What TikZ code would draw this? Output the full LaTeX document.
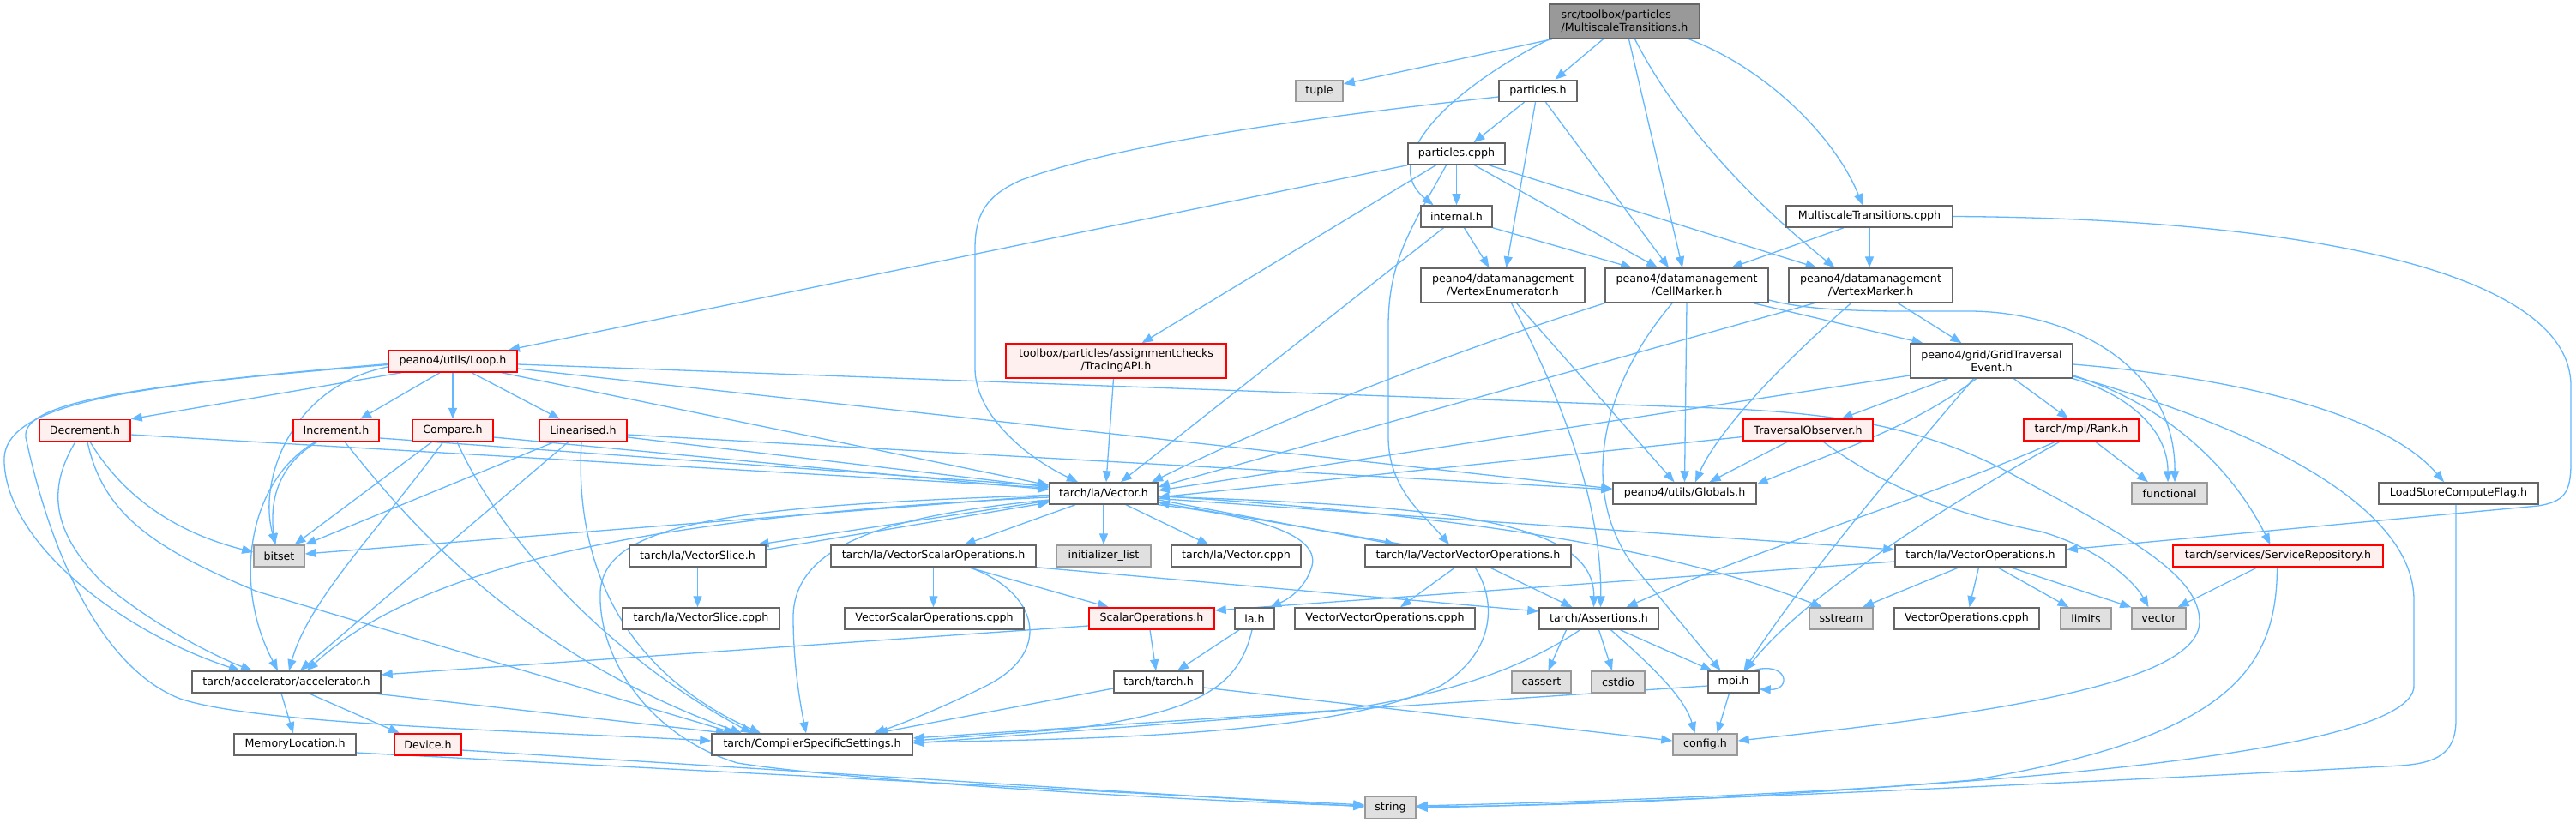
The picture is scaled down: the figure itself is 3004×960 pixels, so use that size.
\documentclass[tikz,border=0pt]{standalone}
\usepackage{fontspec}
\setmainfont{DejaVu Sans}
\usetikzlibrary{arrows.meta}
\pgfdeclarelayer{back}
\pgfdeclarelayer{edges}
\pgfsetlayers{back,edges,main}
\definecolor{edgec}{HTML}{63B8FF}
\definecolor{nodeborder}{HTML}{666666}
\definecolor{grayfill}{HTML}{E0E0E0}
\definecolor{grayborder}{HTML}{999999}
\definecolor{redfill}{HTML}{FFF0F0}
\definecolor{topfill}{HTML}{999999}
\tikzset{
 nb/.style={draw=nodeborder, fill=white, line width=1.5pt, inner sep=0pt, minimum height=25pt, font=\fontsize{12.65pt}{15pt}\selectfont, align=center},
 gb/.style={nb, draw=grayborder, fill=grayfill},
 rb/.style={nb, draw=red, fill=redfill},
 tb/.style={nb, draw=nodeborder, fill=topfill},
 twol/.style={minimum height=40pt},
 dep/.style={draw=edgec, line width=1.3pt, -{Triangle[length=13pt,width=10pt]}},
}
\begin{document}
\begin{tikzpicture}[x=1pt,y=-1pt]
\useasboundingbox (0,0) rectangle (3004,960);
\begin{pgfonlayer}{back}
\fill[white] (0,0) rectangle (3004,960);
\end{pgfonlayer}
\node[tb, align=left, twol, minimum width=175pt] (mt) at (1894.5,25) {src/toolbox/particles\\/MultiscaleTransitions.h};
\node[gb, minimum width=55pt] (tuple) at (1538.5,106) {tuple};
\node[nb, minimum width=91pt] (ph) at (1793.5,106) {particles.h};
\node[nb, minimum width=113pt] (pcpph) at (1698.5,179.5) {particles.cpph};
\node[nb, minimum width=83pt] (internal) at (1698.5,252.5) {internal.h};
\node[nb, minimum width=194pt] (mtcpph) at (2180,252.5) {MultiscaleTransitions.cpph};
\node[nb, twol, minimum width=191pt] (venum) at (1752.5,333) {peano4/datamanagement\\/VertexEnumerator.h};
\node[nb, twol, minimum width=190pt] (cellm) at (1967,333) {peano4/datamanagement\\/CellMarker.h};
\node[nb, twol, minimum width=191pt] (vertm) at (2181.5,333) {peano4/datamanagement\\/VertexMarker.h};
\node[rb, minimum width=150pt] (loop) at (528,421.5) {peano4/utils/Loop.h};
\node[rb, twol, minimum width=257pt] (tracing) at (1301.5,421) {toolbox/particles/assignmentchecks\\/TracingAPI.h};
\node[nb, twol, minimum width=189pt] (gte) at (2322.5,421) {peano4/grid/GridTraversal\\Event.h};
\node[rb, minimum width=106pt] (dec) at (99,502) {Decrement.h};
\node[rb, minimum width=100pt] (inc) at (392,502) {Increment.h};
\node[rb, minimum width=94pt] (cmp) at (528,502) {Compare.h};
\node[rb, minimum width=102pt] (lin) at (680,502) {Linearised.h};
\node[rb, minimum width=151pt] (tobs) at (2108.5,501.5) {TraversalObserver.h};
\node[rb, minimum width=134pt] (rank) at (2427,501.5) {tarch/mpi/Rank.h};
\node[nb, minimum width=126pt] (vec) at (1287,575.5) {tarch/la/Vector.h};
\node[nb, minimum width=167pt] (glob) at (1964.5,575.5) {peano4/utils/Globals.h};
\node[gb, minimum width=88pt] (func) at (2530,575.5) {functional};
\node[nb, minimum width=186pt] (lscf) at (2867,575.5) {LoadStoreComputeFlag.h};
\node[gb, minimum width=59pt] (bitset) at (325.5,648.5) {bitset};
\node[nb, minimum width=159pt] (vslice) at (813.5,648.5) {tarch/la/VectorSlice.h};
\node[nb, minimum width=239pt] (vso) at (1088.5,648.5) {tarch/la/VectorScalarOperations.h};
\node[gb, minimum width=110pt] (initl) at (1287,648.5) {initializer\_list};
\node[nb, minimum width=151pt] (vcpph) at (1441.5,648.5) {tarch/la/Vector.cpph};
\node[nb, minimum width=240pt] (vvo) at (1712,648.5) {tarch/la/VectorVectorOperations.h};
\node[nb, minimum width=199pt] (vops) at (2309.5,648.5) {tarch/la/VectorOperations.h};
\node[rb, minimum width=245pt] (srep) at (2656.5,648.5) {tarch/services/ServiceRepository.h};
\node[nb, minimum width=183pt] (vslicecpph) at (817.5,721.5) {tarch/la/VectorSlice.cpph};
\node[nb, minimum width=209pt] (vsocpph) at (1089.5,721.5) {VectorScalarOperations.cpph};
\node[rb, minimum width=146pt] (scalar) at (1343,721.5) {ScalarOperations.h};
\node[nb, minimum width=46pt] (la) at (1463,721.5) {la.h};
\node[nb, minimum width=210pt] (vvocpph) at (1615,721.5) {VectorVectorOperations.cpph};
\node[nb, minimum width=139pt] (assert) at (1864.5,721.5) {tarch/Assertions.h};
\node[gb, minimum width=74pt] (sstream) at (2147,721.5) {sstream};
\node[nb, minimum width=169pt] (vocpph) at (2293.5,721.5) {VectorOperations.cpph};
\node[gb, minimum width=59pt] (limits) at (2432.5,721.5) {limits};
\node[gb, minimum width=63pt] (vector) at (2517.5,721.5) {vector};
\node[nb, minimum width=220pt] (accel) at (334,795.5) {tarch/accelerator/accelerator.h};
\node[nb, minimum width=104pt] (tarch) at (1351,795.5) {tarch/tarch.h};
\node[gb, minimum width=69pt] (cassert) at (1797.5,795.5) {cassert};
\node[gb, minimum width=62pt] (cstdio) at (1887,795.5) {cstdio};
\node[nb, minimum width=59pt] (mpi) at (2021.5,795.5) {mpi.h};
\node[nb, minimum width=142pt] (memloc) at (344,868.5) {MemoryLocation.h};
\node[rb, minimum width=78pt] (device) at (499,868.5) {Device.h};
\node[nb, minimum width=234pt] (css) at (947,868.5) {tarch/CompilerSpecificSettings.h};
\node[gb, minimum width=75pt] (config) at (1988.5,868.5) {config.h};
\node[gb, minimum width=59pt] (string) at (1621.5,942) {string};

\begin{pgfonlayer}{edges}
% MultiscaleTransitions.h
\draw[dep] ([xshift=-84.5pt]mt.south) -- ([yshift=8pt]tuple.east);
\draw[dep] ([xshift=-25pt]mt.south) -- ([xshift=20pt]ph.north);
\draw[dep] ([xshift=-88pt]mt.south) .. controls (1680,110) and (1610,190) .. ([xshift=-27pt]internal.north);
\draw[dep] ([xshift=5pt]mt.south) -- ([xshift=-5pt]cellm.north);
\draw[dep] ([xshift=12pt]mt.south) .. controls (1960,150) and (2050,240) .. ([xshift=-42pt]vertm.north);
\draw[dep] ([xshift=75pt]mt.south) .. controls (2060,80) and (2140,160) .. ([xshift=-8pt]mtcpph.north);
% particles.h
\draw[dep] ([xshift=-16pt]ph.south) -- ([xshift=20pt]pcpph.north);
\draw[dep] ([xshift=-3pt]ph.south) -- ([xshift=4pt]venum.north);
\draw[dep] ([xshift=9pt]ph.south) -- ([xshift=-21pt]cellm.north);
\draw[dep] ([yshift=-7pt]ph.west) .. controls (1500,140) and (1300,170) .. (1191,210) .. controls (1150,228) and (1137,250) .. (1137,290) -- (1137,430) .. controls (1137,480) and (1190,530) .. ([xshift=-30pt]vec.north);
% particles.cpph
\draw[dep] (pcpph.south west) -- ([xshift=65pt]loop.north);
\draw[dep] ([xshift=-24pt]pcpph.south) -- ([xshift=30pt]tracing.north);
\draw[dep] (pcpph.south) -- (internal.north);
\draw[dep] ([xshift=-12pt]pcpph.south) .. controls (1650,260) and (1619,300) .. (1619,380) -- (1619,510) .. controls (1619,570) and (1660,600) .. ([xshift=-22pt]vvo.north);
\draw[dep] ([xshift=21pt]pcpph.south) -- ([xshift=-34pt]cellm.north);
\draw[dep] ([xshift=38pt]pcpph.south) -- ([xshift=-63pt]vertm.north);
% internal.h
\draw[dep] ([xshift=9pt]internal.south) -- ([xshift=-16pt]venum.north);
\draw[dep] (internal.south east) -- ([xshift=-64pt]cellm.north);
\draw[dep] ([xshift=-15pt]internal.south) -- ([xshift=20pt]vec.north);
% MultiscaleTransitions.cpph
\draw[dep] ([xshift=-30pt]mtcpph.south) -- ([xshift=52pt]cellm.north);
\draw[dep] (mtcpph.south) -- ([xshift=-1.5pt]vertm.north);
\draw[dep] (mtcpph.east) .. controls (2700,255) and (2998,320) .. (2998,450) -- (2998,540) .. controls (2998,575) and (2990,585) .. (2960,590) -- ([yshift=7.5pt]vops.east);
% VertexEnumerator
\draw[dep] ([xshift=10pt]venum.south) .. controls (1830,480) and (1868,600) .. ([xshift=2pt]assert.north);
\draw[dep] ([xshift=16pt]venum.south) -- ([xshift=-12pt]glob.north);
% CellMarker
\draw[dep] (cellm.south west) .. controls (1740,395) and (1520,475) .. ([xshift=56pt]vec.north);
\draw[dep] (cellm.south) -- (glob.north);
\draw[dep] ([xshift=-17pt]cellm.south) .. controls (1860,460) and (1845,580) .. (1905,660) -- ([xshift=-15pt]mpi.north);
\draw[dep] ([xshift=78pt]cellm.south) -- ([xshift=-80pt]gte.north);
\draw[dep] ([yshift=-17pt]cellm.east) .. controls (2120,365) and (2200,363) .. (2300,363) .. controls (2420,365) and (2537,430) .. ([xshift=6pt]func.north);
% VertexMarker
\draw[dep] ([xshift=-66pt]vertm.south) -- ([yshift=7.5pt]vec.east);
\draw[dep] ([xshift=-23pt]vertm.south) .. controls (2060,440) and (2000,510) .. ([xshift=12.5pt]glob.north);
\draw[dep] ([xshift=32pt]vertm.south) -- ([xshift=-35pt]gte.north);
% Loop.h
\draw[dep] ([xshift=-60pt]loop.south) -- (dec.north east);
\draw[dep] ([xshift=-15pt]loop.south) -- ([xshift=28pt]inc.north);
\draw[dep] (loop.south) -- (cmp.north);
\draw[dep] ([xshift=22pt]loop.south) -- ([xshift=-27pt]lin.north);
\draw[dep] ([yshift=-6.5pt]loop.west) .. controls (340,450) and (300,560) .. ([xshift=-4pt]bitset.north);
\draw[dep] ([yshift=-4pt]loop.west) .. controls (150,450) and (0,470) .. (5,540) .. controls (10,640) and (150,740) .. ([xshift=-54pt]accel.north);
\draw[dep] ([yshift=-3pt]loop.west) .. controls (150,450) and (25,470) .. (30,510) .. controls (60,650) and (120,780) .. (210,815) .. controls (300,845) and (600,852) .. ([yshift=4.5pt]css.west);
\draw[dep] ([xshift=57pt]loop.south) -- ([yshift=9.5pt]vec.west);
\draw[dep] ([yshift=-8.5pt]loop.east) -- ([yshift=5.5pt]glob.west);
\draw[dep] ([yshift=-3.5pt]loop.east) -- (2000,476) .. controls (2150,482) and (2250,500) .. (2350,555) .. controls (2480,625) and (2565,670) .. (2565,725) .. controls (2565,800) and (2300,835) .. ([yshift=4.5pt]config.east);
% Decrement.h
\draw[dep] ([yshift=-5pt]dec.east) -- ([yshift=6.5pt]vec.west);
\draw[dep] ([xshift=6pt]dec.south) .. controls (150,590) and (220,625) .. ([yshift=4.5pt]bitset.west);
\draw[dep] ([xshift=-11pt]dec.south) .. controls (55,570) and (60,620) .. (120,680) .. controls (180,730) and (250,765) .. ([xshift=-40pt]accel.north);
\draw[dep] ([xshift=3pt]dec.south) .. controls (120,600) and (180,640) .. (300,690) -- ([xshift=-90pt]css.north);
% Increment.h
\draw[dep] ([xshift=-22pt]inc.south) .. controls (320,545) and (315,590) .. ([xshift=-5pt]bitset.north);
\draw[dep] ([xshift=-24pt]inc.south) .. controls (290,560) and (270,680) .. ([xshift=-10pt]accel.north);
\draw[dep] ([xshift=10pt]inc.south) .. controls (470,600) and (600,760) .. ([xshift=-82pt]css.north);
\draw[dep] ([yshift=-9pt]inc.east) -- ([yshift=8.5pt]vec.west);
% Compare.h
\draw[dep] ([xshift=-24pt]cmp.south) -- ([xshift=18pt]bitset.north);
\draw[dep] ([xshift=-11pt]cmp.south) .. controls (440,620) and (360,700) .. ([xshift=3pt]accel.north);
\draw[dep] ([xshift=5pt]cmp.south) .. controls (580,620) and (700,760) .. ([xshift=-70pt]css.north);
\draw[dep] ([yshift=-8pt]cmp.east) -- ([yshift=4.5pt]vec.west);
% Linearised.h
\draw[dep] ([xshift=-33pt]lin.south) -- (bitset.north east);
\draw[dep] ([xshift=-17pt]lin.south) -- ([xshift=16pt]accel.north);
\draw[dep] ([yshift=-8pt]lin.east) -- ([yshift=7.5pt]vec.west);
\draw[dep] ([yshift=-5pt]lin.east) -- ([yshift=4.5pt]glob.west);
\draw[dep] ([xshift=-2pt]lin.south) .. controls (670,650) and (720,780) .. ([xshift=-60pt]css.north);
% TracingAPI
\draw[dep] ([xshift=-3pt]tracing.south) -- ([xshift=3pt]vec.north);
% GridTraversalEvent
\draw[dep] ([yshift=-17pt]gte.west) -- ([yshift=3.5pt]vec.east);
\draw[dep] ([xshift=-51pt]gte.south) -- ([xshift=39pt]tobs.north);
\draw[dep] ([xshift=-18pt]gte.south) .. controls (2230,500) and (2130,530) .. ([yshift=10.5pt]glob.east);
\draw[dep] ([xshift=-21pt]gte.south) .. controls (2200,560) and (2100,680) .. ([xshift=12pt]mpi.north);
\draw[dep] ([xshift=26pt]gte.south) -- ([xshift=-15pt]rank.north);
\draw[dep] (gte.south east) .. controls (2480,460) and (2528,500) .. ([xshift=-2pt]func.north);
\draw[dep] ([yshift=-17pt]gte.east) .. controls (2520,470) and (2600,540) .. ([xshift=-9pt]srep.north);
\draw[dep] ([yshift=-4pt]gte.east) .. controls (2600,440) and (2780,480) .. ([xshift=-17pt]lscf.north);
\draw[dep] ([yshift=-18pt]gte.east) .. controls (2600,490) and (2815,580) .. (2815,700) -- (2815,800) .. controls (2815,880) and (2300,925) .. ([yshift=2pt]string.east);
% TraversalObserver
\draw[dep] ([yshift=-8pt]tobs.west) -- ([yshift=-4.5pt]vec.east);
\draw[dep] ([xshift=-23pt]tobs.south) -- ([xshift=29pt]glob.north);
\draw[dep] ([xshift=17pt]tobs.south) .. controls (2200,570) and (2280,600) .. (2380,620) .. controls (2450,640) and (2490,680) .. ([xshift=-12pt]vector.north);
% Rank.h
\draw[dep] ([xshift=16pt]rank.south) -- ([xshift=-25pt]func.north);
\draw[dep] ([xshift=-24pt]rank.south) .. controls (2250,600) and (2100,700) .. ([xshift=14pt]mpi.north);
\draw[dep] ([xshift=-29pt]rank.south) .. controls (2250,580) and (2050,640) .. ([xshift=32pt]assert.north);
% Vector.h
\draw[dep] ([yshift=-2.5pt]vec.west) -- ([yshift=2.5pt]bitset.east);
\draw[dep] ([yshift=-8.5pt]vec.west) -- ([xshift=70pt]vslice.north);
\draw[dep] ([yshift=7.5pt]vslice.east) -- ([yshift=-10.5pt]vec.west);
\draw[dep] ([xshift=-33pt]vec.south) -- ([xshift=36pt]vso.north);
\draw[dep] (vec.south) -- (initl.north);
\draw[dep] ([xshift=26pt]vec.south) -- ([xshift=-32pt]vcpph.north);
\draw[dep] ([yshift=-7.5pt]vec.east) -- ([xshift=-84pt]vvo.north);
\draw[dep] ([xshift=-74pt]vvo.north) -- ([yshift=-10.5pt]vec.east);
\draw[dep] (vec.south east) .. controls (1450,600) and (1540,620) .. (1530,660) .. controls (1522,688) and (1500,700) .. ([xshift=18pt]la.north);
\draw[dep] ([yshift=-3.5pt]vec.east) .. controls (1650,590) and (1860,600) .. ([xshift=-6pt]assert.north);
\draw[dep] ([yshift=-3pt]vec.east) .. controls (1700,600) and (1950,640) .. ([xshift=-22pt]sstream.north);
\draw[dep] ([yshift=-6pt]vec.east) -- ([yshift=7.5pt]vops.west);
\draw[dep] ([yshift=-4.5pt]vec.west) .. controls (800,600) and (500,650) .. ([xshift=24pt]accel.north);
\draw[dep] ([yshift=-7.5pt]vec.west) .. controls (1050,600) and (925,630) .. (925,720) .. controls (925,780) and (935,830) .. ([xshift=-7pt]css.north);
\draw[dep] ([yshift=-2pt]vec.west) .. controls (850,590) and (705,610) .. (700,690) .. controls (697,770) and (760,860) .. (860,890) .. controls (1000,912) and (1400,935) .. ([yshift=2pt]string.west);
% VectorSlice.h
\draw[dep] (vslice.south) -- ([xshift=-4pt]vslicecpph.north);
% VectorScalarOperations.h
\draw[dep] (vso.south) -- ([xshift=-1pt]vsocpph.north);
\draw[dep] ([xshift=41pt]vso.south) -- ([xshift=-50pt]scalar.north);
\draw[dep] (vso.south east) -- ([yshift=8.5pt]assert.west);
\draw[dep] ([xshift=42pt]vso.south) .. controls (1210,690) and (1230,760) .. (1150,800) .. controls (1100,825) and (1050,845) .. ([xshift=72pt]css.north);
% VectorVectorOperations.h
\draw[dep] ([xshift=-15pt]vvo.south) -- ([xshift=18pt]vvocpph.north);
\draw[dep] ([xshift=25pt]vvo.south) -- ([xshift=-31pt]assert.north);
\draw[dep] ([xshift=8pt]vvo.south) .. controls (1745,700) and (1745,760) .. (1680,800) .. controls (1550,860) and (1250,862) .. ([yshift=2.5pt]css.east);
% VectorOperations.h
\draw[dep] ([yshift=-6.5pt]vops.west) -- ([yshift=9.5pt]scalar.east);
\draw[dep] ([xshift=-25pt]vops.south) -- ([xshift=25pt]sstream.north);
\draw[dep] ([xshift=-2pt]vops.south) -- ([xshift=3pt]vocpph.north);
\draw[dep] ([xshift=20pt]vops.south) -- ([xshift=-20pt]limits.north);
\draw[dep] ([xshift=35pt]vops.south) -- (vector.north west);
% ServiceRepository
\draw[dep] ([xshift=-24pt]srep.south) -- ([xshift=22pt]vector.north);
\draw[dep] ([xshift=-1pt]srep.south) .. controls (2655,780) and (2600,860) .. (2300,910) .. controls (2000,935) and (1800,940) .. ([yshift=1pt]string.east);
% LoadStoreComputeFlag
\draw[dep] ([xshift=-3pt]lscf.south) -- (2864,840) .. controls (2864,880) and (2840,890) .. (2800,893) .. controls (2300,920) and (1800,940) .. (string.east);
% ScalarOperations
\draw[dep] ([xshift=-2pt]scalar.south) -- ([xshift=-3pt]tarch.north);
\draw[dep] ([yshift=-8.5pt]scalar.west) -- ([yshift=8.5pt]accel.east);
% la.h
\draw[dep] ([xshift=-18pt]la.south) -- ([xshift=22pt]tarch.north);
\draw[dep] ([xshift=-3pt]la.south) .. controls (1445,800) and (1400,830) .. (1250,850) -- ([yshift=4.5pt]css.east);
% Assertions
\draw[dep] ([xshift=-38pt]assert.south) -- ([xshift=8pt]cassert.north);
\draw[dep] (assert.south) -- ([xshift=-7pt]cstdio.north);
\draw[dep] ([xshift=25pt]assert.south) -- ([xshift=-25pt]mpi.north);
\draw[dep] ([xshift=14pt]assert.south) .. controls (1930,780) and (1965,815) .. ([xshift=-12pt]config.north);
\draw[dep] ([xshift=-22pt]assert.south) .. controls (1760,790) and (1660,815) .. (1550,830) -- ([yshift=1.5pt]css.east);
% mpi.h
\draw[dep] ([xshift=22pt]mpi.north) .. controls (2085,770) and (2090,805) .. ([yshift=-8.5pt]mpi.east);
\draw[dep] ([xshift=-5pt]mpi.south) -- ([xshift=14pt]config.north);
\draw[dep] ([yshift=-4.5pt]mpi.west) -- ([yshift=7.5pt]css.east);
% tarch.h
\draw[dep] ([yshift=-7.5pt]tarch.west) -- ([xshift=75pt]css.north);
\draw[dep] ([yshift=-6.5pt]tarch.east) -- ([yshift=4.5pt]config.west);
% accelerator.h
\draw[dep] ([xshift=-6pt]accel.south) -- ([xshift=-2pt]memloc.north);
\draw[dep] ([xshift=26pt]accel.south) -- ([xshift=-33pt]device.north);
\draw[dep] ([xshift=100pt]accel.south) -- ([xshift=-99pt]css.north);
% MemoryLocation, Device
\draw[dep] ([yshift=-9.5pt]memloc.east) -- ([yshift=3pt]string.west);
\draw[dep] ([yshift=-6.5pt]device.east) -- ([yshift=1pt]string.west);
\end{pgfonlayer}
\end{tikzpicture}
\end{document}
